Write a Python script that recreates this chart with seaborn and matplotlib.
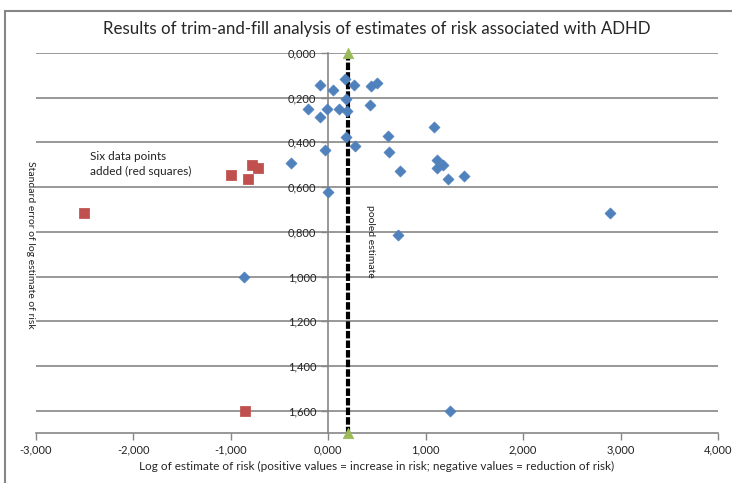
import matplotlib
matplotlib.use("Agg")
import matplotlib.pyplot as plt
import matplotlib.ticker as mticker
from matplotlib.patches import Rectangle
import seaborn as sns
import pandas as pd

# Observed estimates (blue diamonds)
obs_x = [-0.087, 0.172, 0.053, 0.264, 0.435, 0.504, -0.207, -0.018, 0.105, 0.182,
         0.197, 0.428, -0.080, 1.084, 0.613, 0.186, 0.279, -0.033, 0.623, -0.384,
         1.119, 1.180, 1.119, 0.733, 1.227, -0.008, 1.388, 0.715, 2.894, -0.870, 1.248]
obs_y = [0.142, 0.115, 0.167, 0.142, 0.146, 0.136, 0.249, 0.249, 0.252, 0.205,
         0.259, 0.234, 0.287, 0.332, 0.373, 0.378, 0.417, 0.435, 0.441, 0.494,
         0.478, 0.503, 0.515, 0.528, 0.562, 0.620, 0.552, 0.816, 0.717, 1.000, 1.600]
# Filled (imputed) estimates (red squares)
fill_x = [-2.505, -1.002, -0.828, -0.787, -0.725, -0.855]
fill_y = [0.717, 0.547, 0.562, 0.503, 0.515, 1.600]
# Pooled estimate line
pooled_x = [0.2, 0.2]
pooled_y = [0.0, 1.7]

x_ticks = [-3, -2, -1, 0, 1, 2, 3, 4]
y_ticks = [0.0, 0.2, 0.4, 0.6, 0.8, 1.0, 1.2, 1.4, 1.6]

sns.set_style("white")
plt.rcParams['font.family'] = ['Lato', 'DejaVu Sans']

fig = plt.figure(figsize=(7.32, 4.83), dpi=100)
ax = fig.add_axes([36/732, 1-433/483, (718-36)/732, (433-53)/483])

obs = pd.DataFrame({"x": obs_x, "y": obs_y})
fill = pd.DataFrame({"x": fill_x, "y": fill_y})
pooled = pd.DataFrame({"x": pooled_x, "y": pooled_y})

sns.lineplot(data=pooled, x="x", y="y", ax=ax, color="black", lw=3,
             linestyle=(0, (1.8, 0.5)), zorder=3, sort=False, estimator=None)
sns.scatterplot(data=pooled, x="x", y="y", ax=ax, marker="^", s=55, color="#9BBB59",
                edgecolor="#9BBB59", zorder=4, clip_on=False)
sns.scatterplot(data=obs, x="x", y="y", ax=ax, marker="D", s=32, color="#4F81BD",
                edgecolor="#4F81BD", zorder=5, clip_on=False)
sns.scatterplot(data=fill, x="x", y="y", ax=ax, marker="s", s=46, color="#C0504D",
                edgecolor="#C0504D", zorder=5, clip_on=False)

ax.set_xlim(-3, 4)
ax.set_ylim(1.7, 0)
ax.set_xticks(x_ticks)
ax.set_yticks(y_ticks)
fmt = mticker.FuncFormatter(lambda v, p: f"{v:.3f}".replace(".", ","))
ax.xaxis.set_major_formatter(fmt)
ax.yaxis.set_major_formatter(fmt)

ax.grid(axis="y", color="#868686", lw=1.2)
ax.grid(axis="x", visible=False)
ax.set_axisbelow(True)
for s in ["top", "right"]:
    ax.spines[s].set_visible(False)
ax.spines["left"].set_position(("data", 0))
ax.spines["left"].set_color("#868686")
ax.spines["bottom"].set_color("#868686")
ax.spines["left"].set_linewidth(1.2)
ax.spines["bottom"].set_linewidth(1.2)
ax.tick_params(axis="both", direction="out", length=5, color="#868686", width=1,
               labelsize=8, labelcolor="#222222", left=True, bottom=True)
ax.set_xlabel("Log of estimate of risk (positive values = increase in risk; negative values = reduction of risk)",
              fontsize=8.5, labelpad=4)
ax.set_ylabel("")

ax.set_title("Results of trim-and-fill analysis of estimates of risk associated with ADHD",
             fontsize=12.2, pad=14)

ax.text(-2.45, 0.555, "Six data points\nadded (red squares)", fontsize=8.5, ha="left",
        va="bottom", linespacing=1.4, color="#222222")
ax.text(0.43, 0.68, "pooled estimate", rotation=270, fontsize=7.5, ha="center",
        va="top", color="#222222")
fig.text(30/732, 1-245/483, "Standard error of log estimate of risk", rotation=270,
         fontsize=7.5, ha="center", va="center", color="#222222")

fig.patches.append(Rectangle((5/732, -0.1), 2, 1.1 - 11/483, transform=fig.transFigure,
                             fill=False, edgecolor="#868686", lw=1.5))

fig.savefig("out.png", dpi=100)
